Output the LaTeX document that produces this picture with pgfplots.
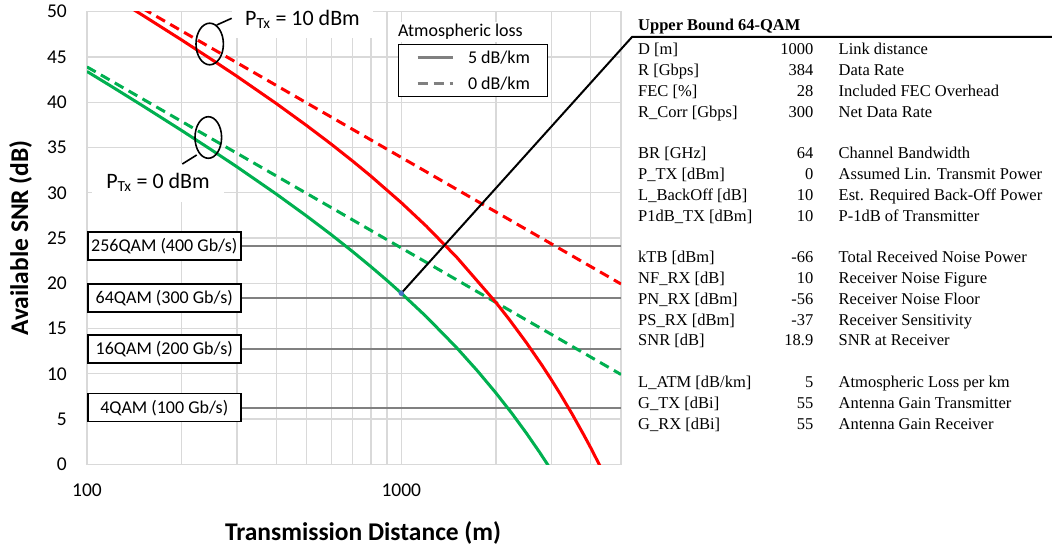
\documentclass[border=0pt]{standalone}
\usepackage{fontspec}
\setmainfont{Carlito}
\newfontfamily\tnr{Liberation Serif}
\usepackage{pgfplots}
\pgfplotsset{compat=1.18}
\definecolor{cred}{HTML}{FF0000}
\definecolor{cgreen}{HTML}{00B050}
\definecolor{cgrid}{HTML}{D9D9D9}
\definecolor{cthr}{HTML}{808080}
\definecolor{cblue}{HTML}{4472C4}
\begin{document}
\begin{tikzpicture}[x=1pt,y=1pt]
\path[use as bounding box] (-87,-85.7) rectangle (965,464.3);
\begin{axis}[
 at={(0,0)}, anchor=south west,
 scale only axis, width=534pt, height=452.6pt,
 xmode=log, xmin=100, xmax=5000, ymin=0, ymax=50,
 xtick={100,1000}, xticklabels={100,1000},
 minor xtick={200,300,400,500,600,700,800,900,2000,3000,4000},
 ytick={0,5,...,50},
 grid=both,
 major grid style={draw=cgrid, line width=1.3pt},
 minor grid style={draw=cgrid, line width=1.3pt},
 axis line style={draw=cgrid, line width=1.3pt},
 major tick length=0pt, minor tick length=0pt,
 /pgf/number format/assume math mode=true,
 tick label style={font=\fontsize{19.5}{23}\selectfont},
 yticklabel style={anchor=east, inner sep=0pt, xshift=-20pt},
 xticklabel style={anchor=center, inner sep=0pt, yshift=-26.4pt},
 xlabel={Transmission Distance (m)},
 ylabel={Available SNR (dB)},
 every axis x label/.style={at={(axis description cs:0.517,-0.1518)}, anchor=center,
   font=\bfseries\fontsize{25.5}{30}\selectfont},
 every axis y label/.style={at={(axis description cs:-0.1245,0.5)}, anchor=center, rotate=90,
   font=\bfseries\fontsize{25.5}{30}\selectfont},
 legend style={at={(0.582,0.9287)}, anchor=north west, draw=black, line width=1.5pt, fill=white,
   font=\fontsize{18}{21}\selectfont, inner xsep=17.5pt, inner ysep=6pt,
   row sep=12pt, column sep=14pt, nodes={inner sep=0pt}},
 legend cell align=left,
 legend image code/.code={\draw[#1] (0pt,0pt) -- (35pt,0pt);},
]
% threshold lines
\addplot[cthr, line width=2.4pt, forget plot] coordinates {(100,24.1) (5000,24.1)};
\addplot[cthr, line width=2.4pt, forget plot] coordinates {(100,18.35) (5000,18.35)};
\addplot[cthr, line width=2.4pt, forget plot] coordinates {(100,12.75) (5000,12.75)};
\addplot[cthr, line width=2.4pt, forget plot] coordinates {(100,6.25) (5000,6.25)};
\coordinate (q256) at (axis cs:100,24.1);
\coordinate (q64) at (axis cs:100,18.35);
\coordinate (q16) at (axis cs:100,12.75);
\coordinate (q4) at (axis cs:100,6.25);
% green dashed: 0 dBm, 0 dB/km
\addplot[cgreen, line width=3pt, dash pattern=on 10pt off 6pt, forget plot] coordinates {
(100,43.9) (120,42.32) (150,40.38) (200,37.88) (250,35.94) (300,34.36) (400,31.86) (500,29.92)
(600,28.34) (700,27.0) (800,25.84) (1000,23.9) (1200,22.32) (1500,20.38) (2000,17.88) (2500,15.94)
(3000,14.36) (3500,13.02) (4000,11.86) (4500,10.84) (5000,9.92)};
% red dashed: 10 dBm, 0 dB/km
\addplot[cred, line width=3pt, dash pattern=on 10pt off 6pt, forget plot] coordinates {
(100,53.9) (120,52.32) (150,50.38) (200,47.88) (250,45.94) (300,44.36) (400,41.86) (500,39.92)
(600,38.34) (700,37.0) (800,35.84) (1000,33.9) (1200,32.32) (1500,30.38) (2000,27.88) (2500,25.94)
(3000,24.36) (3500,23.02) (4000,21.86) (4500,20.84) (5000,19.92)};
% green solid: 0 dBm, 5 dB/km
\addplot[cgreen, line width=3pt, forget plot] coordinates {
(100,43.4) (120,41.72) (150,39.63) (200,36.88) (250,34.69) (300,32.86) (400,29.86) (500,27.42)
(600,25.34) (700,23.5) (800,21.84) (900,20.32) (1000,18.9) (1200,16.32) (1500,12.88) (1750,10.29)
(2000,7.88) (2250,5.61) (2500,3.44) (2750,1.36) (3000,-0.64)};
% red solid: 10 dBm, 5 dB/km
\addplot[cred, line width=3pt, forget plot] coordinates {
(100,53.4) (120,51.72) (150,49.63) (200,46.88) (250,44.69) (300,42.86) (400,39.86) (500,37.42)
(600,35.34) (700,33.5) (800,31.84) (1000,28.9) (1200,26.32) (1500,22.88) (2000,17.88) (2200,16.05)
(2500,13.44) (2800,10.96) (3000,9.36) (3200,7.8) (3500,5.52) (3800,3.3) (4000,1.86) (4300,-0.27)};
% operating point
\addplot[only marks, mark=*, mark size=2.5pt, cblue, forget plot] coordinates {(1000,18.9)};
\coordinate (op) at (axis cs:1000,18.9);
\addlegendimage{cthr, line width=3pt}
\addlegendentry{5 dB/km}
\addlegendimage{cthr, line width=3pt, dash pattern=on 10pt off 6pt}
\addlegendentry{0 dB/km}
\end{axis}
% callout line
\draw[black, line width=2pt, shorten <=2.5pt] (op) -- (545,427.3) -- (965,427.3);
% threshold boxes
\begin{scope}[every node/.style={draw=black, line width=1.5pt, fill=white, minimum width=153pt,
  minimum height=28pt, inner sep=0pt, anchor=west, font=\fontsize{18}{21}\selectfont}]
\node at (q256) {256QAM (400 Gb/s)};
\node at (q64) {64QAM (300 Gb/s)};
\node at (q16) {16QAM (200 Gb/s)};
\node at (q4) {4QAM (100 Gb/s)};
\end{scope}
% PTx labels
\node[fill=white, inner sep=0pt, minimum width=141pt, minimum height=38pt, font=\fontsize{22}{26}\selectfont]
  at (215.5,445.3) {P\textsubscript{Tx} = 10 dBm};
\node[fill=white, inner sep=0pt, minimum width=132pt, minimum height=39pt, font=\fontsize{22}{26}\selectfont]
  at (71,282) {P\textsubscript{Tx} = 0 dBm};
\draw[black, line width=1.6pt] (122.7,420.3) ellipse [x radius=13.7pt, y radius=20.8pt];
\draw[black, line width=1.6pt] (129.7,439.3) -- (144.7,446);
\draw[black, line width=1.6pt] (121.3,326.8) ellipse [x radius=13.3pt, y radius=20.8pt];
\draw[black, line width=1.6pt] (109.7,309.3) -- (95.3,300.3);
% legend title
\node[anchor=west, fill=white, inner sep=2pt, font=\fontsize{18}{21}\selectfont] at (309,432.3) {Atmospheric loss};
% table
\begin{scope}[every node/.style={inner sep=0pt, anchor=base west}, font=\tnr\fontsize{16.5}{19}\selectfont]
\node[font=\tnr\bfseries\fontsize{16.5}{19}\selectfont] at (551,433.8) {Upper Bound 64-QAM};
\newcommand{\row}[4]{%
  \node at (551,#1-5.5) {#2};
  \node[anchor=base east] at (726.5,#1-5.5) {#3};
  \node at (751.5,#1-5.5) {#4};}
\row{414.8}{D [m]}{1000}{Link distance}
\row{394.02}{R [Gbps]}{384}{Data Rate}
\row{373.24}{FEC [\%]}{28}{Included FEC Overhead}
\row{352.46}{R\_Corr [Gbps]}{300}{Net Data Rate}
\row{310.9}{BR [GHz]}{64}{Channel Bandwidth}
\row{290.12}{P\_TX [dBm]}{0}{Assumed Lin. Transmit Power}
\row{269.34}{L\_BackOff [dB]}{10}{Est. Required Back-Off Power}
\row{248.56}{P1dB\_TX [dBm]}{10}{P-1dB of Transmitter}
\row{207.0}{kTB [dBm]}{-66}{Total Received Noise Power}
\row{186.22}{NF\_RX [dB]}{10}{Receiver Noise Figure}
\row{165.44}{PN\_RX [dBm]}{-56}{Receiver Noise Floor}
\row{144.66}{PS\_RX [dBm]}{-37}{Receiver Sensitivity}
\row{123.88}{SNR [dB]}{18.9}{SNR at Receiver}
\row{82.32}{L\_ATM [dB/km]}{5}{Atmospheric Loss per km}
\row{61.54}{G\_TX [dBi]}{55}{Antenna Gain Transmitter}
\row{40.76}{G\_RX [dBi]}{55}{Antenna Gain Receiver}
\end{scope}
\end{tikzpicture}
\end{document}
